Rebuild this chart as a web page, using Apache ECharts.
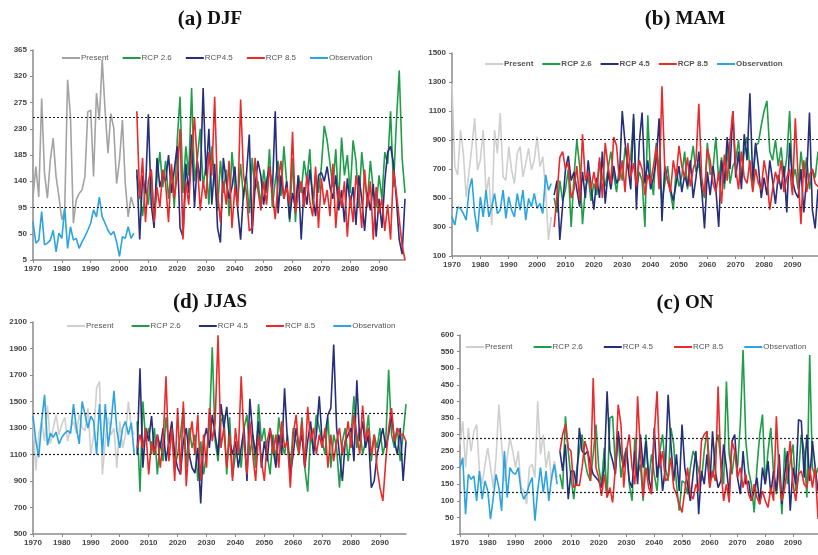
<!DOCTYPE html>
<html>
<head>
<meta charset="utf-8">
<script src="https://cdn.jsdelivr.net/npm/echarts@6/dist/echarts.min.js"></script>
<style>
  html, body { margin: 0; padding: 0; background: #ffffff; }
  #myChart { width: 818px; height: 555px; }
</style>
</head>
<body>
<div id="myChart"></div>
<script>
// years on the x axis, 1970..2099
var years = [];
for (var y = 1970; y <= 2099; y++) years.push(String(y));

// ---- (a) DJF ----
var presentA = [113,165,113,282,153,111,176,214,148,113, 74,91,314,251,68,108,119,125,148,259, 262,148,291,245,348,262,188,256,231,136, 176,245,136,79,113,96];
var obsA = [71,34,39,88,31,34,39,56,19,51, 42,94,25,62,39,42,25,36,45,56, 68,91,79,113,79,68,56,48,54,36, 11,45,42,62,42,51];
var rcp26A = [150,120,80,130,
  100,160,75,145,190,130,175,110,160,95,
  210,285,120,200,150,300,140,180,230,130,
  170,100,200,145,90,175,120,160,80,190,
  130,105,170,110,150,85,180,125,140,100,
  160,120,195,95,140,175,115,200,135,70,
  180,70,150,120,175,140,195,100,150,120,
  165,235,210,170,130,195,100,215,150,185,
  120,210,175,95,190,140,110,175,125,95,
  150,110,190,170,260,130,240,330,180,120];
var rcp45A = [160,40,150,120,
  255,100,60,180,130,150,140,185,120,160,
  200,60,45,170,120,220,95,175,140,300,
  150,230,100,170,60,35,180,140,110,130,
  165,90,40,120,150,220,50,130,175,150,
  100,140,165,120,260,85,150,110,140,75,
  120,95,150,40,130,100,160,115,80,150,
  155,140,165,130,110,150,90,125,70,145,
  100,130,65,150,110,55,120,90,135,45,
  110,60,140,190,200,170,110,40,15,110];
var rcp85A = [260,110,180,70,
  140,160,70,130,95,160,135,70,170,110,
  150,230,40,140,100,185,250,170,90,140,
  110,190,150,285,120,70,140,100,175,60,
  130,95,280,150,120,55,60,180,125,90,
  140,100,165,120,75,140,175,110,130,100,
  225,85,120,140,95,150,105,80,165,60,
  145,100,125,80,170,60,130,95,140,45,
  115,70,150,120,60,160,95,140,40,130,
  85,110,55,100,40,160,120,75,30,5];
var refA = [250, 96];

// ---- (b) MAM ----
var presentB = [1290,716,659,969,808,508,682,854,1050,693, 762,969,531,646,313,969,808,1085,646,623, 854,693,600,808,854,646,739,843,693,762, 923,716,785,554,210,370];
var obsB = [370,313,439,428,393,347,554,635,393,267, 508,370,554,370,439,531,393,416,554,359, 508,416,370,531,416,554,347,497,439,531, 428,462,393,659,554,600];
var rcp26B = [500,400,620,480,
  560,700,300,650,900,720,320,560,650,480,
  600,520,750,640,580,700,820,660,540,720,
  620,850,700,780,1050,560,680,620,300,1070,
  650,520,880,700,480,600,720,540,420,700,
  580,650,820,560,720,860,680,740,560,500,
  880,660,700,920,620,780,560,840,600,720,
  760,900,640,820,920,700,560,860,880,1000,
  1100,1170,820,760,900,720,850,640,780,1100,
  620,700,560,820,640,780,560,700,640,820];
var rcp45B = [520,620,210,450,
  700,790,620,680,560,440,680,500,760,580,
  420,640,500,820,460,680,560,720,600,640,
  1100,880,720,560,1080,420,880,1090,600,760,
  560,640,760,1050,340,720,620,560,480,600,
  720,540,660,580,760,500,640,820,560,290,
  680,520,720,560,300,760,600,920,700,1100,
  640,820,560,940,760,1222,620,880,720,500,
  640,520,760,620,460,660,560,720,400,880,
  620,540,500,700,400,640,1090,420,290,560];
var rcp85B = [300,520,780,820,
  700,740,500,560,720,480,940,620,680,560,
  680,560,780,500,880,720,600,920,860,620,
  760,540,880,640,740,580,760,700,520,660,
  600,720,860,560,1270,700,620,540,760,640,
  860,720,640,780,580,700,760,1150,640,520,
  840,760,600,540,680,460,800,620,900,1100,
  700,560,820,640,600,760,540,700,600,560,
  760,640,420,560,680,600,760,540,640,700,
  520,1050,640,320,760,540,660,700,600,580];
var refB = [905, 435];

// ---- (d) JJAS ----
var presentD = [1350,980,1250,1350,1200,1470,1180,1300,1400,1250, 1330,1380,1200,1300,1350,1260,1400,1300,1280,1450, 1100,1250,1600,1650,950,1200,1380,1250,1300,1000, 1350,1150,1250,1500,1300,1250];
var obsD = [1390,1200,1080,1350,1550,1170,1260,1230,1270,1180, 1230,1260,1280,1260,1480,1300,1180,1500,1400,1300, 1390,1350,1100,1480,1100,1480,1160,1340,1580,1280, 1150,1300,1350,1250,1340,1100];
var rcp26D = [1350,820,1500,1200,
  1300,1100,1300,950,1200,1050,1380,1180,1300,1000,
  1100,1250,1450,1000,1300,1150,1250,900,1200,950,
  1100,1300,1910,1200,1050,1350,1400,950,1380,930,
  1100,1200,1000,1300,1400,1100,1250,1000,1480,1200,
  1300,1100,950,1250,1050,1380,1200,1100,1250,1000,
  1300,1200,1100,1380,1000,820,1250,1150,1400,1300,
  1200,1100,1380,1000,1250,1150,850,1200,1300,1050,
  1250,1540,1150,1300,1100,1200,1400,1050,1250,1150,
  1300,1100,1200,1740,1250,1150,1300,1050,1250,1480];
var rcp45D = [1100,1750,1000,1300,
  1200,1390,1100,1250,1150,1300,1050,1200,1350,1100,
  1000,950,1200,1300,1100,1000,960,1150,730,1200,
  1300,1150,1400,1250,1100,1480,1300,1460,1200,1100,
  1200,1000,1150,1300,900,1520,1250,1100,1350,1000,
  1200,1050,1300,1150,1000,1250,1100,1600,1200,950,
  1100,1300,1150,1250,1000,1200,1350,1100,1250,1540,
  1200,1250,1400,1450,1930,1300,1100,900,1200,1250,
  1300,1050,1660,1200,1350,1150,1250,850,900,1100,
  1200,1300,1150,1250,1400,1200,1100,1300,900,1200];
var rcp85D = [1150,1250,1150,1300,
  950,1200,1100,1250,1000,1200,1690,1050,1300,900,
  1450,950,1500,860,1200,1350,1100,1400,900,1250,
  1000,1450,1200,1350,2000,1150,1300,1000,1250,900,
  1300,1100,1690,1200,950,1350,1100,900,1250,1050,
  900,1200,1300,1100,1250,1000,1350,1150,1200,850,
  1250,1400,1100,1350,1000,1460,1200,1300,1100,1250,
  1150,1300,1000,1250,1050,1200,1300,1100,1200,1350,
  1150,1400,1250,1100,1470,1200,1300,1100,1250,1000,
  850,750,1050,1300,1450,1200,1300,1250,1250,1200];
var refD = [1415, 1100];

// ---- (c) ON ----
var presentC = [270,340,200,320,250,310,330,190,150,210, 260,200,140,230,390,270,160,230,290,250, 200,250,140,130,90,200,210,170,400,240, 300,200,250,160,220,170];
var obsC = [200,230,60,180,165,175,100,190,105,160, 130,45,110,180,140,70,250,110,200,185, 180,200,130,105,120,150,170,40,130,200, 125,190,100,170,210,150];
var rcp26C = [180,135,355,250,
  170,105,190,250,300,220,180,160,240,330,
  200,150,260,110,350,355,200,300,170,230,
  260,150,100,290,180,210,100,300,160,240,
  180,130,250,300,200,160,320,270,150,70,
  160,155,120,200,250,230,190,160,250,310,
  200,170,260,300,220,150,460,240,180,250,
  200,330,555,280,190,150,65,200,300,360,
  150,250,320,180,120,200,60,260,150,220,
  270,130,180,300,250,110,540,200,170,200];
var rcp45C = [250,190,270,105,
  190,190,145,320,250,240,250,210,180,170,
  160,140,200,430,250,220,180,310,240,200,
  260,160,140,250,150,300,200,280,170,130,
  320,170,250,130,200,420,270,160,240,130,
  330,200,150,100,180,250,60,190,150,240,
  140,310,190,140,160,270,200,120,280,300,
  170,120,250,150,160,100,130,170,90,200,
  150,220,120,190,130,240,90,180,250,70,
  200,150,345,340,170,300,160,280,200,130];
var rcp85C = [250,300,330,260,
  250,140,150,145,200,280,250,160,470,200,
  170,115,180,110,140,95,200,390,330,140,
  250,300,200,150,415,250,110,200,140,120,
  300,430,200,250,160,170,230,140,120,90,
  65,130,200,120,105,150,130,280,300,310,
  140,190,160,445,200,100,150,95,280,250,
  170,200,140,180,120,100,150,110,90,130,
  100,80,140,100,355,180,100,140,200,280,
  150,100,180,190,150,140,200,140,200,45];
var refC = [290, 125];

var seriesNames = ['Present', 'RCP 2.6', 'RCP 4.5', 'RCP 8.5', 'Observation'];
var colors = ['#c4c4c4', '#1f9d48', '#262f7c', '#ea2b2b', '#2ba4e0'];

var panels = [
  { title: '(a)', sub: 'DJF', names: ['Present', 'RCP 2.6', 'RCP4.5', 'RCP 8.5', 'Observation'],
    present: presentA, obs: obsA, r26: rcp26A, r45: rcp45A, r85: rcp85A, ref: refA,
    grid: { left: 33, top: 50, width: 372, height: 210 }, min: 5, max: 365, step: 45,
    titlePos: { left: 205, top: 4 }, legendTop: 49, legendLeft: 57, gap: 14, grayColor: '#a3a3a3', boldLegend: false },
  { title: '(b)', sub: 'MAM', names: seriesNames,
    present: presentB, obs: obsB, r26: rcp26B, r45: rcp45B, r85: rcp85B, ref: refB,
    grid: { left: 452, top: 53, width: 366, height: 203 }, min: 100, max: 1500, step: 200,
    titlePos: { left: 680, top: 4 }, legendTop: 55, legendLeft: 480, gap: 9, grayColor: '#cfcfcf', boldLegend: true },
  { title: '(d)', sub: 'JJAS', names: seriesNames,
    present: presentD, obs: obsD, r26: rcp26D, r45: rcp45D, r85: rcp85D, ref: refD,
    grid: { left: 33, top: 322, width: 373, height: 212 }, min: 500, max: 2100, step: 200,
    titlePos: { left: 205, top: 287 }, legendTop: 317, legendLeft: 62, gap: 18, grayColor: '#cfcfcf', boldLegend: false },
  { title: '(c)', sub: 'ON', names: seriesNames,
    present: presentC, obs: obsC, r26: rcp26C, r45: rcp45C, r85: rcp85C, ref: refC,
    grid: { left: 460, top: 335, width: 358, height: 199 }, min: 0, max: 600, step: 50,
    titlePos: { left: 680, top: 288 }, legendTop: 338, legendLeft: 461, gap: 21, grayColor: '#cfcfcf', boldLegend: false }
];

function toPairs(values, startYear) {
  return values.map(function (v, i) { return [startYear - 1970 + i, v]; });
}

var option = {
  animation: false,
  backgroundColor: '#ffffff',
  title: [], legend: [], grid: [], xAxis: [], yAxis: [], series: []
};

panels.forEach(function (p, k) {
  option.title.push({
    text: '{b|' + p.title + '} {n|' + p.sub + '}',
    left: p.titlePos.left, top: p.titlePos.top, textAlign: 'center',
    textStyle: {
      rich: {
        b: { fontFamily: 'Liberation Serif', fontWeight: 'bold', fontSize: 21, color: '#111' },
        n: { fontFamily: 'Liberation Serif', fontSize: 19, color: '#111' }
      }
    }
  });
  option.grid.push(p.grid);
  option.xAxis.push({
    type: 'category', gridIndex: k, data: years, boundaryGap: false,
    axisLine: { lineStyle: { color: '#8a8a8a', width: 1.5 } },
    axisTick: { interval: 9, length: 3, lineStyle: { color: '#8a8a8a' } },
    axisLabel: { interval: 9, fontSize: 8, fontWeight: 'bold', color: '#444', margin: 5, fontFamily: 'Liberation Sans' },
    splitLine: { show: false }
  });
  option.yAxis.push({
    type: 'value', gridIndex: k, min: p.min, max: p.max, interval: p.step,
    axisLine: { show: true, lineStyle: { color: '#8a8a8a', width: 1.5 } },
    axisTick: { show: true, length: 3, lineStyle: { color: '#8a8a8a' } },
    axisLabel: { fontSize: 8, fontWeight: 'bold', color: '#444', margin: 6, fontFamily: 'Liberation Sans',
      formatter: function (v) { return v === 0 ? '' : v; } },
    splitLine: { show: false }
  });
  var ids = [];
  var sets = [
    { data: toPairs(p.present, 1970), color: p.grayColor },
    { data: toPairs(p.r26, 2006), color: colors[1] },
    { data: toPairs(p.r45, 2006), color: colors[2] },
    { data: toPairs(p.r85, 2006), color: colors[3] },
    { data: toPairs(p.obs, 1970), color: colors[4] }
  ];
  sets.forEach(function (s, j) {
    var name = p.names[j];
    ids.push(name);
    var ser = {
      name: name, type: 'line', xAxisIndex: k, yAxisIndex: k,
      data: s.data, symbol: 'none', color: s.color,
      lineStyle: { color: s.color, width: 1.6 }
    };
    if (j === 4) {
      ser.markLine = {
        silent: true, symbol: 'none', label: { show: false },
        lineStyle: { color: '#222', type: [2, 2], width: 1.2 },
        data: p.ref.map(function (r) { return { yAxis: r }; })
      };
    }
    option.series.push(ser);
  });
  option.legend.push({
    data: ids.map(function (n, j) {
      return { name: n, itemStyle: { color: sets[j].color } };
    }),
    left: p.legendLeft, top: p.legendTop, width: 420, itemGap: p.gap,
    icon: 'rect', itemWidth: 18, itemHeight: 2,
    textStyle: { fontSize: 8, color: '#555', fontWeight: p.boldLegend ? 'bold' : 'normal', fontFamily: 'Liberation Sans', padding: [0, 0, 0, -4] }
  });
});

var myChart = echarts.init(document.getElementById('myChart'));
myChart.setOption(option);
</script>
</body>
</html>
